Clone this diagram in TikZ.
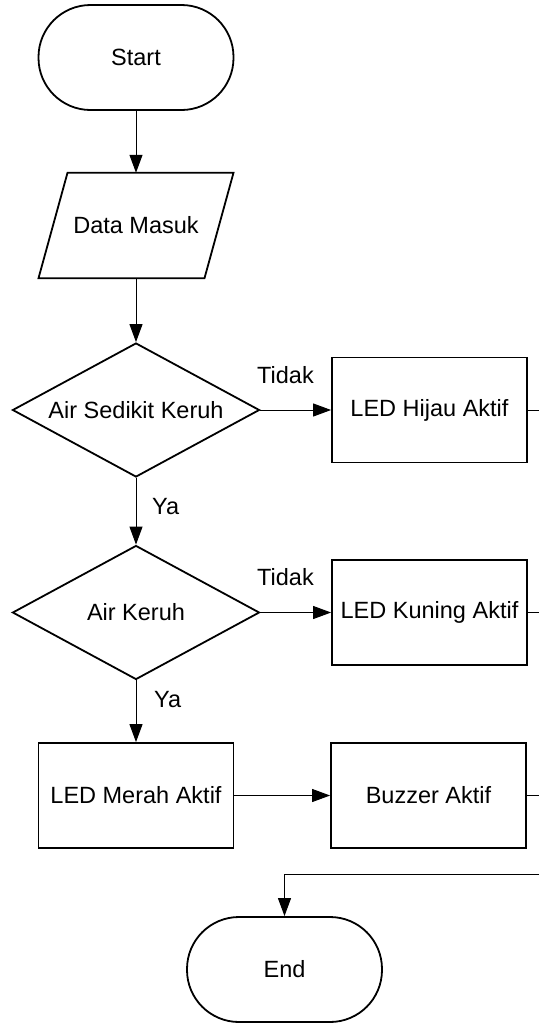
\documentclass[tikz,border=0pt]{standalone}
\usepackage{fontspec}
\setmainfont{Liberation Sans}
\usetikzlibrary{shapes.geometric,arrows.meta}
\begin{document}
\begin{tikzpicture}[x=1pt,y=-1pt,
  every node/.style={font=\fontsize{23.5}{28}\selectfont},
  terminal/.style={draw,line width=1.8pt,rectangle,rounded corners=52pt,minimum width=195pt,minimum height=105pt,inner sep=0pt},
  procbox/.style={draw,line width=1.8pt,rectangle,minimum width=195pt,minimum height=105pt,inner sep=0pt},
  iobox/.style={minimum width=195pt,minimum height=105pt,inner sep=0pt},
  decision/.style={draw,line width=1.8pt,diamond,aspect=1.84,minimum width=247pt,minimum height=134pt,inner sep=0pt},
  conn/.style={line width=1pt,-{Triangle[length=18pt,width=13pt]}},
  plainline/.style={line width=1pt},
  lbl/.style={anchor=west,inner sep=0pt}
]
\useasboundingbox (0,0) rectangle (539,1023);
\node[terminal] (start) at (136,57.5) {Start};
\node[iobox] (data) at (136,225.5) {Data Masuk};
\draw[line width=1.8pt,line join=miter] ([xshift=-68.5pt]data.north) -- ([xshift=97.5pt]data.north) -- ([xshift=68.5pt]data.south) -- ([xshift=-97.5pt]data.south) -- cycle;
\node[decision] (d1) at (136,410) {Air Sedikit Keruh};
\node[procbox] (hijau) at (429.5,410) {LED Hijau Aktif};
\node[decision] (d2) at (136,612.5) {Air Keruh};
\node[procbox] (kuning) at (429.5,612.5) {LED Kuning Aktif};
\node[procbox] (merah) at (136,795.5) {LED Merah Aktif};
\node[procbox] (buzzer) at (428.5,795.5) {Buzzer Aktif};
\node[terminal] (end) at (284.5,969.5) {End};

\coordinate (e1) at (539,410);
\coordinate (e2) at (539,612.5);
\coordinate (e3) at (539,795.5);
\coordinate (e4) at (539,874);

\draw[conn] (start.south) -- (data.north);
\draw[conn] (data.south) -- (d1.north);
\draw[conn] (d1.east) -- (hijau.west);
\draw[conn] (d1.south) -- (d2.north);
\draw[conn] (d2.east) -- (kuning.west);
\draw[conn] (d2.south) -- (merah.north);
\draw[conn] (merah.east) -- (buzzer.west);
\draw[plainline] (hijau.east) -- (e1);
\draw[plainline] (kuning.east) -- (e2);
\draw[plainline] (buzzer.east) -- (e3);
\draw[conn] (e4) -| (end.north);

\node[lbl] (t1) at (257,375) {Tidak};
\node[lbl] (y1) at (152,507) {Ya};
\node[lbl] (t2) at (257,577) {Tidak};
\node[lbl] (y2) at (154,700) {Ya};
\end{tikzpicture}
\end{document}
